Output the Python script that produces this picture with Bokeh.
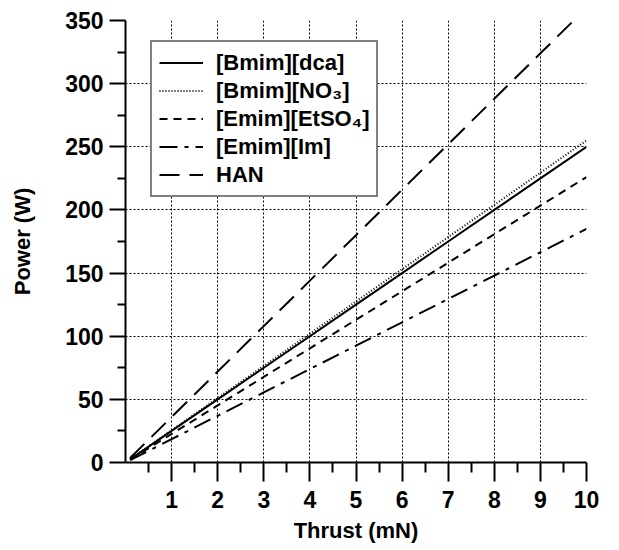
from bokeh.plotting import figure
from bokeh.models import Range1d, FixedTicker, Legend, LegendItem
from bokeh.embed import file_html
from bokeh.resources import INLINE

# Data
thrust = [0.1, 1, 2, 3, 4, 5, 6, 7, 8, 9, 10]
bmim_dca = [2.5, 25, 50, 75, 100, 125, 150, 175, 200, 225, 250]
bmim_no3 = [2.6, 25.5, 51, 76.5, 102, 127.5, 153, 178.5, 204, 229.5, 255]
emim_etso4 = [2.3, 22.6, 45.2, 67.8, 90.4, 113, 135.6, 158.2, 180.8, 203.4, 226]
emim_im = [1.9, 18.5, 37, 55.5, 74, 92.5, 111, 129.5, 148, 166.5, 185]
han = [3.6, 36, 72, 108, 144, 180, 216, 252, 288, 324, 360]

series_labels = ["[Bmim][dca]", "[Bmim][NO\u2083]", "[Emim][EtSO\u2084]", "[Emim][Im]", "HAN"]
x_ticks = [1, 2, 3, 4, 5, 6, 7, 8, 9, 10]
x_minor = [0.5, 1.5, 2.5, 3.5, 4.5, 5.5, 6.5, 7.5, 8.5, 9.5]
y_ticks = [0, 50, 100, 150, 200, 250, 300, 350]
y_minor = [25, 75, 125, 175, 225, 275, 325]

FONT = "Liberation Sans"

p = figure(width=619, height=550, output_backend="svg", toolbar_location=None,
           x_range=Range1d(0, 10), y_range=Range1d(0, 350),
           min_border_left=125, min_border_right=33, min_border_top=20, min_border_bottom=88,
           x_axis_label="Thrust (mN)", y_axis_label="Power (W)")
p.outline_line_color = None
p.background_fill_color = "white"

styles = [
    (bmim_dca, "solid"),
    (bmim_no3, "1 2"),
    (emim_etso4, "8 6"),
    (emim_im, "18 7 4 7"),
    (han, "20 10"),
]
renderers = []
for ys, dash in styles:
    r = p.line(thrust, ys, line_color="black", line_width=2, line_dash=dash)
    renderers.append(r)

# axes
for ax in (p.xaxis[0], p.yaxis[0]):
    ax.axis_line_width = 2
    ax.axis_line_color = "black"
    ax.major_tick_line_width = 2
    ax.minor_tick_line_width = 2
    ax.major_label_text_font = FONT
    ax.major_label_text_font_style = "bold"
    ax.major_label_text_font_size = "23px"
    ax.major_label_text_color = "black"
    ax.axis_label_text_font = FONT
    ax.axis_label_text_font_style = "bold"
    ax.axis_label_text_font_size = "22px"
    ax.axis_label_text_color = "black"

p.xaxis[0].ticker = FixedTicker(ticks=x_ticks, minor_ticks=x_minor)
p.xaxis[0].major_tick_out = 19
p.xaxis[0].major_tick_in = 0
p.xaxis[0].minor_tick_out = 10
p.xaxis[0].minor_tick_in = 0
p.xaxis[0].major_label_standoff = 9
p.xaxis[0].axis_label_standoff = 7

p.yaxis[0].ticker = FixedTicker(ticks=y_ticks, minor_ticks=y_minor)
p.yaxis[0].major_tick_out = 16
p.yaxis[0].major_tick_in = 0
p.yaxis[0].minor_tick_out = 8
p.yaxis[0].minor_tick_in = 0
p.yaxis[0].major_label_standoff = 6
p.yaxis[0].axis_label_standoff = 27

# grids
p.xgrid.ticker = FixedTicker(ticks=x_ticks)
p.ygrid.ticker = FixedTicker(ticks=y_ticks[1:])
for g in (p.xgrid[0], p.ygrid[0]):
    g.grid_line_color = "black"
    g.grid_line_dash = "2 2"
    g.grid_line_width = 1

legend = Legend(items=[LegendItem(label=lab, renderers=[r]) for lab, r in zip(series_labels, renderers)],
                location=(25, 265))
legend.border_line_color = "black"
legend.border_line_width = 2
legend.label_text_font = FONT
legend.label_text_font_style = "bold"
legend.label_text_font_size = "22px"
legend.label_text_color = "black"
legend.glyph_width = 44
legend.glyph_height = 27
legend.label_height = 27
legend.spacing = 1
legend.padding = 7
legend.margin = 0
legend.label_standoff = 13
legend.background_fill_alpha = 1
p.add_layout(legend, "center")

open("out.html", "w").write(file_html(p, INLINE))
